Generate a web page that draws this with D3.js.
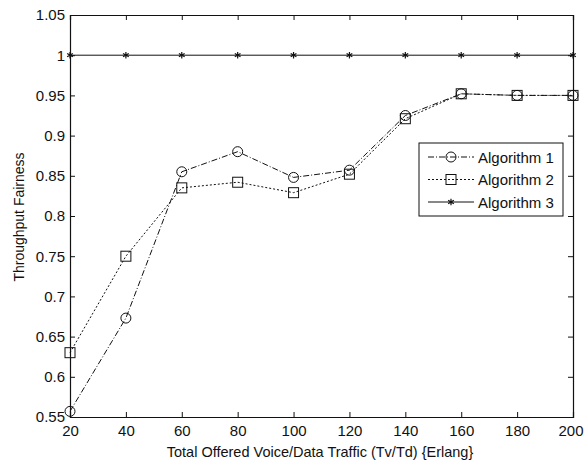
<!DOCTYPE html>
<html>
<head>
<meta charset="utf-8">
<script src="https://cdn.jsdelivr.net/npm/d3@7"></script>
<style>
  body { margin: 0; background: #fff; }
  text { font-family: "Liberation Sans", Arial, sans-serif; fill: #111; }
</style>
</head>
<body>
<div id="chart"></div>
<script>
// Data
var traffic = [20, 40, 60, 80, 100, 120, 140, 160, 180, 200];
var algo1 = [0.557, 0.673, 0.855, 0.880, 0.848, 0.857, 0.925, 0.952, 0.950, 0.950];
var algo2 = [0.630, 0.750, 0.835, 0.842, 0.829, 0.852, 0.921, 0.952, 0.950, 0.950];
var algo3 = [1, 1, 1, 1, 1, 1, 1, 1, 1, 1];
var seriesNames = ["Algorithm 1", "Algorithm 2", "Algorithm 3"];
var yTicks = [0.55, 0.6, 0.65, 0.7, 0.75, 0.8, 0.85, 0.9, 0.95, 1, 1.05];

var svgWidth = 584, svgHeight = 464;
var margin = {top: 15, right: 11, bottom: 47, left: 70};
var width = svgWidth - margin.left - margin.right;
var height = svgHeight - margin.top - margin.bottom;

var svg = d3.select("#chart").append("svg")
    .attr("width", svgWidth)
    .attr("height", svgHeight);

var g = svg.append("g")
    .attr("transform", "translate(" + margin.left + "," + margin.top + ")");

// Scales
var xScale = d3.scaleLinear().domain([20, 200]).range([0, width]);
var yScale = d3.scaleLinear().domain([0.55, 1.05]).range([height, 0]);

var fmt = function(d){ return d3.format("")(+d.toFixed(2)); };

// Axes (MATLAB style: ticks pointing inward, box on all sides)
var xAxis = g.append("g").attr("transform", "translate(0," + height + ")")
    .call(d3.axisBottom(xScale).tickValues(traffic).tickSize(-5).tickPadding(8));
var xTop = g.append("g")
    .call(d3.axisTop(xScale).tickValues(traffic).tickSize(-5).tickFormat(""));
var yAxis = g.append("g")
    .call(d3.axisLeft(yScale).tickValues(yTicks).tickSize(-5).tickPadding(5).tickFormat(fmt));
var yRight = g.append("g").attr("transform", "translate(" + width + ",0)")
    .call(d3.axisRight(yScale).tickValues(yTicks).tickSize(-5).tickFormat(""));

[xAxis, xTop, yAxis, yRight].forEach(function(a){
  a.select(".domain").attr("stroke", "#111").attr("stroke-width", 1.2);
  a.selectAll(".tick line").attr("stroke", "#111");
  a.selectAll("text").style("font-size", "15px").attr("fill", "#111")
    .style("font-family", "'Liberation Sans', Arial, sans-serif");
});

// last x label sits at the window edge, keep it inside
xAxis.selectAll(".tick text").filter(function(d){ return d === 200; })
    .attr("text-anchor", "end").attr("x", 10);

// Axis labels
svg.append("text")
    .attr("x", 320)
    .attr("y", svgHeight - 7)
    .attr("text-anchor", "middle")
    .style("font-size", "14.5px")
    .text("Total Offered Voice/Data Traffic (Tv/Td) {Erlang}");

svg.append("text")
    .attr("transform", "rotate(-90)")
    .attr("x", -217)
    .attr("y", 24)
    .attr("text-anchor", "middle")
    .style("font-size", "14px")
    .text("Throughput Fairness");

// Series
var series = [
  {name: seriesNames[0], values: algo1, dash: "6,2,1,2", marker: "circle"},
  {name: seriesNames[1], values: algo2, dash: "2,2", marker: "square"},
  {name: seriesNames[2], values: algo3, dash: null, marker: "star"}
];

var line = d3.line()
    .x(function(d, i){ return xScale(traffic[i]); })
    .y(function(d){ return yScale(d); });

function drawMarker(sel, type, x, y){
  if(type === "circle"){
    sel.append("circle").attr("cx", x).attr("cy", y).attr("r", 5)
       .attr("fill", "none").attr("stroke", "#111").attr("stroke-width", 1);
  }else if(type === "square"){
    sel.append("rect").attr("x", x - 5).attr("y", y - 5).attr("width", 10).attr("height", 10)
       .attr("fill", "none").attr("stroke", "#111").attr("stroke-width", 1);
  }else{
    sel.append("path")
       .attr("d", d3.symbol().type(d3.symbolAsterisk).size(30)())
       .attr("transform", "translate(" + x + "," + y + ")")
       .attr("fill", "none").attr("stroke", "#111").attr("stroke-width", 1.2);
  }
}

series.forEach(function(s){
  g.append("path")
    .datum(s.values)
    .attr("d", line)
    .attr("fill", "none")
    .attr("stroke", "#111")
    .attr("stroke-width", 1)
    .attr("stroke-dasharray", s.dash);

  s.values.forEach(function(v, i){
    drawMarker(g, s.marker, xScale(traffic[i]), yScale(v));
  });
});

// Legend
var legend = svg.append("g").attr("transform", "translate(419,143)");
legend.append("rect")
    .attr("width", 144).attr("height", 73)
    .attr("fill", "#fff").attr("stroke", "#111").attr("stroke-width", 1);

series.forEach(function(s, i){
  var row = legend.append("g").attr("transform", "translate(0," + (14 + i * 22.5) + ")");
  row.append("line")
     .attr("x1", 9).attr("x2", 55).attr("y1", 0).attr("y2", 0)
     .attr("stroke", "#111").attr("stroke-width", 1)
     .attr("stroke-dasharray", s.dash);
  drawMarker(row, s.marker, 32, 0);
  row.append("text")
     .attr("x", 59).attr("y", 5.5)
     .style("font-size", "15px")
     .text(s.name);
});
</script>
</body>
</html>
